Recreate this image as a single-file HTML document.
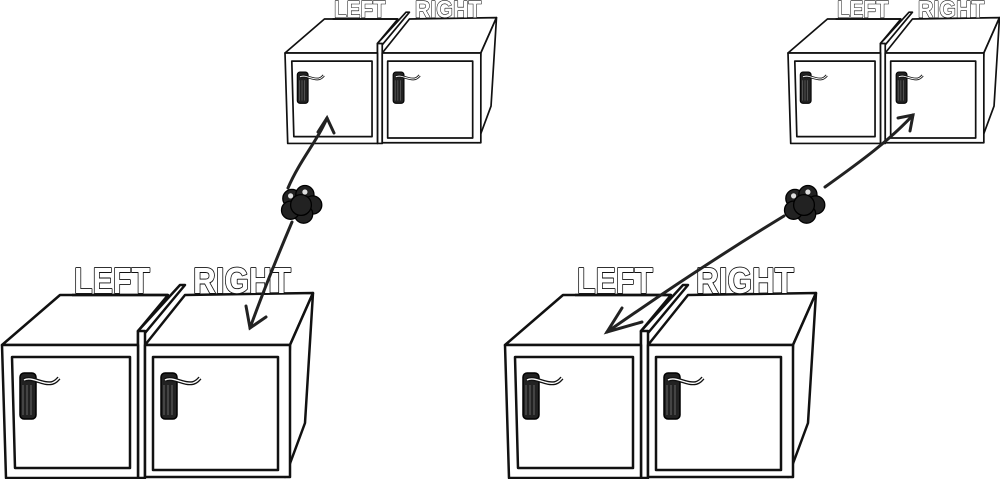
<!DOCTYPE html>
<html><head><meta charset="utf-8"><style>
html,body{margin:0;padding:0;background:#fff;width:1000px;height:479px;overflow:hidden}
svg{display:block}
.t{font-family:"Liberation Sans",sans-serif;font-weight:bold;font-size:36px;fill:#fff;stroke:#111;stroke-width:1.8;paint-order:stroke}
</style></head><body>
<svg width="1000" height="479" viewBox="0 0 1000 479" xmlns="http://www.w3.org/2000/svg">
<defs>
<g id="handle">
  <rect x="18" y="28" width="16" height="46" rx="4" fill="#222" stroke="#000" stroke-width="1.5"/>
  <path d="M21 40 L21 70 M25 40 L25 70 M29 40 L29 70" stroke="#777" stroke-width="0.8"/>
  <path d="M22 35 C30 31 40 40 50 38 C54 37 55 35 57 33" fill="none" stroke="#111" stroke-width="4"/>
  <path d="M22 35 C30 31 40 40 50 38 C54 37 55 35 57 33" fill="none" stroke="#fff" stroke-width="1.4"/>
</g>
<g id="pair" fill="#fff" stroke="#111" stroke-width="2.5" stroke-linejoin="round">
  <polygon points="0,0 58,-50 166,-50 136,-14 136,0"/>
  <polygon points="143,0 183,-50 311,-52 288,0"/>
  <polygon points="288,0 311,-52 303,78 283,132"/>
  <polygon points="136,-14 178,-60 183,-60 143,-12"/>
  <rect x="136" y="-14" width="7" height="147"/>
  <polygon points="0,0 136,0 136,133 4,133"/>
  <polygon points="10,12 128,12 128,123 13,123"/>
  <rect x="143" y="0" width="145" height="132"/>
  <rect x="151" y="12" width="125" height="113"/>
  <use href="#handle"/>
  <use href="#handle" x="141"/>
  <text class="t" x="72" y="-52" textLength="76" lengthAdjust="spacingAndGlyphs">LEFT</text>
  <text class="t" x="191" y="-52" textLength="98" lengthAdjust="spacingAndGlyphs">RIGHT</text>
  <line x1="70" y1="-50" x2="166" y2="-50" stroke-width="2.5"/>
</g>
<g id="blob" fill="#222" stroke="#000" stroke-width="1">
  <circle cx="-7" cy="-5" r="7"/><circle cx="3" cy="-8" r="7"/><circle cx="9" cy="0" r="7"/>
  <circle cx="2" cy="7" r="7"/><circle cx="-8" cy="4" r="7"/><circle cx="0" cy="0" r="8"/>
  <circle cx="-8" cy="-7" r="2" fill="#ddd" stroke="none"/><circle cx="3" cy="-10" r="2" fill="#ddd" stroke="none"/>
</g>
</defs>

<use href="#pair" transform="translate(2,345)"/>
<use href="#pair" transform="translate(285,53) scale(0.68)"/>
<use href="#blob" transform="translate(301,205) scale(1.3)"/>
<g fill="none" stroke="#222" stroke-width="3" stroke-linecap="round">
  <path d="M288 188 C300 160 318 140 327 118"/>
  <path d="M318 132 L327 118 L334 133"/>
  <path d="M292 222 C278 255 263 292 250 328"/>
  <path d="M246 306 L250 328 L266 317"/>
</g>

<use href="#pair" transform="translate(505,345)"/>
<use href="#pair" transform="translate(788,53) scale(0.68)"/>
<use href="#blob" transform="translate(804,205) scale(1.3)"/>
<g fill="none" stroke="#222" stroke-width="3" stroke-linecap="round">
  <path d="M825 187 C860 162 890 140 913 115"/>
  <path d="M898 118 L913 115 L910 131"/>
  <path d="M784 216 C720 255 660 295 607 332"/>
  <path d="M622 308 L607 332 L642 322"/>
</g>
</svg>
</body></html>
